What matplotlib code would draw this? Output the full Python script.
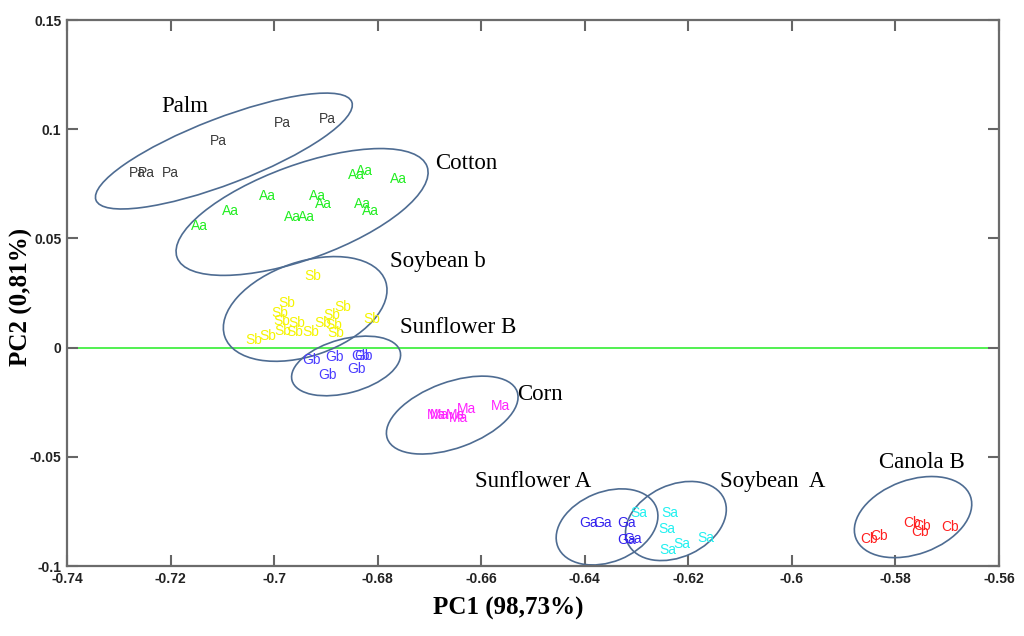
import numpy as np
import matplotlib
matplotlib.use('Agg')
import matplotlib.pyplot as plt
from matplotlib.patches import Ellipse
from matplotlib.transforms import Affine2D

# point labels (PC1, PC2)
pa_x = [-0.7265, -0.7246, -0.7201, -0.7108, -0.6985, -0.6898]
pa_y = [0.0799, 0.0799, 0.0799, 0.0946, 0.1028, 0.1047]

aa_x = [-0.7145, -0.7085, -0.7012, -0.6965, -0.6938, -0.6917, -0.6904, -0.6840, -0.6826, -0.6830, -0.6813, -0.6759]
aa_y = [0.0557, 0.0625, 0.0694, 0.0598, 0.0598, 0.0694, 0.0658, 0.0790, 0.0809, 0.0658, 0.0625, 0.0772]

sb_x = [-0.6925, -0.6975, -0.6989, -0.6985, -0.6956, -0.6983, -0.6960, -0.6929, -0.7012, -0.7039,
        -0.6906, -0.6888, -0.6884, -0.6880, -0.6867, -0.6811]
sb_y = [0.0328, 0.0204, 0.0158, 0.0122, 0.0113, 0.0076, 0.0071, 0.0071, 0.0053, 0.0035,
        0.0113, 0.0149, 0.0103, 0.0067, 0.0186, 0.0131]

gb_x = [-0.6927, -0.6884, -0.6896, -0.6834, -0.6828, -0.6840]
gb_y = [-0.0057, -0.0043, -0.0125, -0.0038, -0.0038, -0.0098]

ma_x = [-0.6687, -0.6680, -0.6649, -0.6643, -0.6628, -0.6562]
ma_y = [-0.0309, -0.0309, -0.0309, -0.0322, -0.0281, -0.0267]

ga_x = [-0.6392, -0.6365, -0.6319, -0.6320, -0.6307]
ga_y = [-0.0803, -0.0803, -0.0803, -0.0881, -0.0876]

sa_x = [-0.6295, -0.6235, -0.6241, -0.6239, -0.6212, -0.6166]
sa_y = [-0.0757, -0.0757, -0.0831, -0.0927, -0.0899, -0.0872]

cb_x = [-0.5851, -0.5832, -0.5768, -0.5749, -0.5753, -0.5695]
cb_y = [-0.0876, -0.0863, -0.0803, -0.0817, -0.0844, -0.0821]

groups = [
    ('Pa', pa_x, pa_y, '#3a3a3a'),
    ('Aa', aa_x, aa_y, '#22ee22'),
    ('Sb', sb_x, sb_y, '#f5f500'),
    ('Gb', gb_x, gb_y, '#4a3cff'),
    ('Ma', ma_x, ma_y, '#ff22ff'),
    ('Ga', ga_x, ga_y, '#3322ee'),
    ('Sa', sa_x, sa_y, '#22f0f0'),
    ('Cb', cb_x, cb_y, '#ff2020'),
]

# group ellipses: centre, semi axes (in PC1 units), screen angle
ell_cx = [-0.7097, -0.6946, -0.6940, -0.6861, -0.6656, -0.6357, -0.6224, -0.5766]
ell_cy = [0.0900, 0.0621, 0.0177, -0.0084, -0.0309, -0.0821, -0.0794, -0.0776]
ell_a = [0.02646, 0.02569, 0.01642, 0.01081, 0.01333, 0.01024, 0.01024, 0.01178]
ell_b = [0.00637, 0.00908, 0.00908, 0.00521, 0.00637, 0.00676, 0.00695, 0.00715]
ell_ang = [21, 20, 19, 15, 20, 22, 25, 20]

names = ['Palm', 'Cotton', 'Soybean b', 'Sunflower B', 'Corn', 'Sunflower A', 'Soybean  A', 'Canola B']
name_x = [-0.7172, -0.6629, -0.6684, -0.6645, -0.6487, -0.6500, -0.6037, -0.5749]
name_y = [0.1102, 0.0841, 0.0392, 0.0090, -0.0217, -0.0611, -0.0611, -0.0524]

xticks = [-0.74, -0.72, -0.70, -0.68, -0.66, -0.64, -0.62, -0.60, -0.58, -0.56]
xtick_labels = ['-0.74', '-0.72', '-0.7', '-0.68', '-0.66', '-0.64', '-0.62', '-0.6', '-0.58', '-0.56']
yticks = [-0.1, -0.05, 0, 0.05, 0.1, 0.15]
ytick_labels = ['-0.1', '-0.05', '0', '0.05', '0.1', '0.15']

xlim = (-0.74, -0.56)
ylim = (-0.1, 0.15)

fig = plt.figure(figsize=(10.24, 6.36), dpi=100)
pos = [67 / 1024, 70 / 636, 932 / 1024, 546 / 636]
ax = fig.add_axes(pos)
ax.set_xlim(*xlim)
ax.set_ylim(*ylim)

# ratio of screen scales so ellipses can be rotated on screen
k = (pos[2] * 10.24 / (xlim[1] - xlim[0])) / (pos[3] * 6.36 / (ylim[1] - ylim[0]))
to_screen = Affine2D().scale(1, k) + ax.transData

ax.axhline(0, color='#33ee33', lw=1.2, zorder=1)

for lab, xs, ys, col in groups:
    for x, y in zip(xs, ys):
        ax.text(x, y, lab, color=col, fontsize=10, family='Liberation Sans',
                ha='center', va='center', zorder=3)

for cx, cy, a, b, ang in zip(ell_cx, ell_cy, ell_a, ell_b, ell_ang):
    e = Ellipse((cx, cy / k), 2 * a, 2 * b, angle=ang, transform=to_screen,
                fill=False, edgecolor='#4e6c92', lw=1.2, zorder=2)
    ax.add_patch(e)

for n, x, y in zip(names, name_x, name_y):
    ax.text(x, y, n, fontsize=16.5, family='Liberation Serif', ha='center', va='center')

ax.set_xticks(xticks)
ax.set_xticklabels(xtick_labels)
ax.set_yticks(yticks)
ax.set_yticklabels(ytick_labels)
for lbl in ax.get_xticklabels() + ax.get_yticklabels():
    lbl.set_family('Liberation Sans')
    lbl.set_fontweight('bold')
    lbl.set_fontsize(10)
    lbl.set_color('#222222')

ax.tick_params(direction='in', length=8, width=1.5, color='#666666',
               top=True, right=True, pad=4)
for s in ax.spines.values():
    s.set_color('#6b6b6b')
    s.set_linewidth(1.6)

ax.set_xlabel('PC1 (98,73%)', fontsize=18, fontweight='bold', family='Liberation Serif')
ax.set_ylabel('PC2 (0,81%)', fontsize=18, fontweight='bold', family='Liberation Serif')
ax.xaxis.set_label_coords(0.473, -0.057)
ax.yaxis.set_label_coords(-0.037, 0.493)

fig.savefig('out.png', dpi=100)
